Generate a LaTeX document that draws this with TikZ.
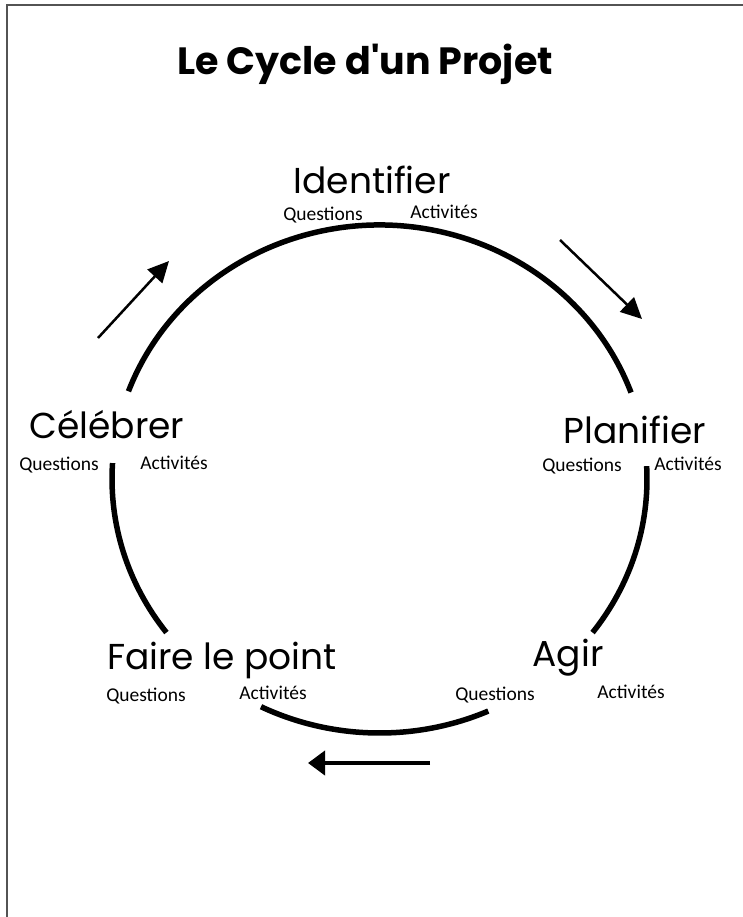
\documentclass[tikz,border=0pt]{standalone}
\usepackage{fontspec}
\setmainfont{Poppins}
\newfontfamily\notefont{Carlito}
\usetikzlibrary{arrows.meta}
% a straight apostrophe, set as a glyph so that no font mapping turns it curly
\newcommand\straightquote{\XeTeXglyph\XeTeXcharglyph"27\relax}

\begin{document}
\begin{tikzpicture}[x=1pt,y=-1pt,
  heading/.style={font=\fontsize{38}{44}\selectfont\bfseries, inner sep=0pt},
  stage/.style={font=\fontsize{36}{41}\selectfont, inner sep=0pt},
  note/.style={font=\notefont\fontsize{19.5}{23}\selectfont, inner sep=0pt, text=black},
  ring/.style={line width=5.5pt},
  cue/.style={line width=2.5pt, -{Triangle[length=21pt,width=20pt]}},
  backcue/.style={line width=4pt, -{Triangle[length=17pt,width=24pt]}},
]
\useasboundingbox (0,0) rectangle (743,917);
% page frame
\draw[gray!65!black, line width=1.3pt] (7,917) -- (7,5) -- (743,5);

% title
\node[heading] (title) at (365,64) {Le Cycle d\straightquote un Projet};

% the cycle: four arcs of one ellipse, broken where the labels sit
\coordinate (O) at (379.5,479);
\draw[ring] (O) ++(-2.9:267.5 and 254) arc[start angle=-2.9, end angle=37.2, x radius=267.5, y radius=254];
\draw[ring] (O) ++(66:267.5 and 254) arc[start angle=66, end angle=116.3, x radius=267.5, y radius=254];
\draw[ring] (O) ++(142.8:267.5 and 254) arc[start angle=142.8, end angle=183.6, x radius=267.5, y radius=254];
\draw[ring] (O) ++(200.2:267.5 and 254) arc[start angle=200.2, end angle=340.1, x radius=267.5, y radius=254];

% stages
\node[stage] (identifier) at (372,180) {Identifier};
\node[note] (q1) at (323,215) {Questions};
\node[note] (a1) at (444,212) {Activités};

\node[stage] (planifier) at (635,430) {Planifier};
\node[note] (q2) at (582,466) {Questions};
\node[note] (a2) at (688,464) {Activités};

\node[stage] (agir) at (568,658) {Agir};
\node[note] (q3) at (495,695) {Questions};
\node[note] (a3) at (631,692) {Activités};

\node[stage] (faire) at (222,660) {Faire le point};
\node[note] (q4) at (146,696) {Questions};
\node[note] (a4) at (273,693) {Activités};

\node[stage] (celebrer) at (107,425) {Célébrer};
\node[note] (q5) at (59,465) {Questions};
\node[note] (a5) at (174,463) {Activités};

% direction arrows
\coordinate (up0) at (98,338);  \coordinate (up1) at (169,261);
\coordinate (dn0) at (560,240); \coordinate (dn1) at (642,319);
\coordinate (lf0) at (430,763); \coordinate (lf1) at (308,763);
\draw[cue] (up0) -- (up1);
\draw[cue] (dn0) -- (dn1);
\draw[backcue] (lf0) -- (lf1);
\end{tikzpicture}
\end{document}
